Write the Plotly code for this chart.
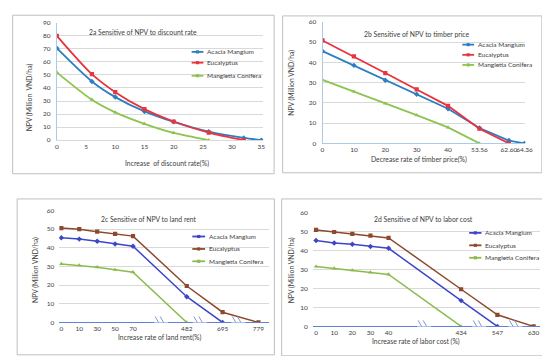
import plotly.graph_objects as go

W, H = 550, 356

# ---------------- data ----------------
series_names = ["Acacia Mangium", "Eucalyptus", "Mangletia Conifera"]

# 2a  discount rate
discount_rate = [0, 6, 10, 15, 20, 26, 32, 35]
acacia_a = [70.5, 45.0, 33.0, 22.0, 14.0, 6.5, 1.7, 0.0]
eucalyptus_a = [80.0, 50.6, 36.8, 23.8, 14.3, 5.8, 0.0]
mangletia_a = [52.0, 31.0, 21.3, 12.5, 5.5, 0.0]

# 2b  timber price
timber_labels = ["0", "10", "20", "30", "40", "53.56", "62.60", "64.36"]
acacia_b = [45.5, 38.5, 31.2, 24.2, 17.1, 7.6, 1.4, 0.0]
eucalyptus_b = [50.8, 42.9, 34.7, 26.6, 18.5, 7.2, 0.0]
mangletia_b = [31.3, 25.6, 19.7, 13.9, 7.9, 0.0]

# 2c  land rent
land_labels = ["0", "10", "30", "50", "70", "482", "695", "779"]
acacia_c = [45.3, 44.6, 43.4, 42.0, 40.8, 13.8, 0.0]
eucalyptus_c = [50.5, 49.9, 48.6, 47.4, 46.2, 19.5, 5.5, 0.0]
mangletia_c = [31.3, 30.6, 29.6, 28.2, 26.9, 0.0]

# 2d  labor cost
labor_labels = ["0", "10", "20", "30", "40", "434", "547", "630"]
acacia_d = [45.3, 44.0, 43.3, 42.2, 41.2, 13.6, 0.0]
eucalyptus_d = [50.9, 49.8, 48.8, 47.9, 46.7, 19.6, 6.1, 0.0]
mangletia_d = [31.6, 30.6, 29.6, 28.5, 27.4, 0.0]

# axis slot positions (compressed / broken axes)
timber_slots = [0, 10, 20, 30, 40, 50, 59.4, 64.36]
land_slots = [0, 1, 2, 3, 4, 7, 9, 11]
labor_slots = [0, 1, 2, 3, 4, 8, 10, 12]
land_breaks = [5.57, 7.73, 9.88]
labor_breaks = [5.96, 9.0, 11.0]

# ---------------- style ----------------
FONT = "Lato"
TXT = "#404040"
colors_top = ["#2b7fc0", "#e8343f", "#8cc44f"]
colors_bot = ["#3d46c8", "#8b4a2c", "#8cbb4c"]
symbols = ["diamond", "square", "triangle-up"]


def fx(px):
    return px / W


def fy(py):
    return 1 - py / H


fig = go.Figure()


def add_series(xs, ys_list, colors, xa, ya, spline=False, width=1.8):
    for name, ys, c, s in zip(series_names, ys_list, colors, symbols):
        fig.add_trace(go.Scatter(
            x=xs[:len(ys)], y=ys, name=name, mode="lines+markers",
            line=dict(color=c, width=width, shape="spline" if spline else "linear",
                      smoothing=0.8),
            marker=dict(color=c, size=4.2, symbol=s),
            xaxis=xa, yaxis=ya, showlegend=False, hoverinfo="skip"))


add_series(discount_rate, [acacia_a, eucalyptus_a, mangletia_a], colors_top, "x", "y", spline=True)
add_series(timber_slots, [acacia_b, eucalyptus_b, mangletia_b], colors_top, "x2", "y2")
add_series(land_slots, [acacia_c, eucalyptus_c, mangletia_c], colors_bot, "x3", "y3", width=1.5)
add_series(labor_slots, [acacia_d, eucalyptus_d, mangletia_d], colors_bot, "x4", "y4", width=1.5)

tickfont = dict(family=FONT, size=6.5, color=TXT)
grid = "#d9d9d9"
lightblue = "#a9cbe8"
axisblue = "#5f82d8"

common_x = dict(showgrid=False, zeroline=False, ticks="", tickfont=tickfont, fixedrange=True,
                tickangle=0)
common_y = dict(showgrid=True, gridcolor=grid, gridwidth=1, zeroline=False, ticks="",
                tickfont=tickfont, ticklabelstandoff=4, fixedrange=True)

fig.update_layout(
    width=W, height=H, margin=dict(l=0, r=0, t=0, b=0),
    paper_bgcolor="white", plot_bgcolor="white",
    xaxis=dict(common_x, domain=[fx(47.7), fx(258)], range=[0, 35.34], tickmode="array",
               tickvals=[0, 5, 10, 15, 20, 25, 30, 35], showline=True, linecolor=grid,
               anchor="y"),
    yaxis=dict(common_y, domain=[fy(130.7), fy(11)], range=[0, 90], dtick=10,
               showline=True, linecolor=lightblue, anchor="x"),
    xaxis2=dict(common_x, domain=[fx(318.3), fx(525)], range=[0, 64.67], tickmode="array",
                tickvals=timber_slots, ticktext=timber_labels, showline=True,
                linecolor=lightblue, anchor="y2"),
    yaxis2=dict(common_y, domain=[fy(134), fy(10)], range=[0, 60], dtick=10,
                showline=True, linecolor=lightblue, anchor="x2"),
    xaxis3=dict(common_x, domain=[fx(50.1), fx(264)], range=[-0.12, 11.6], tickmode="array",
                tickvals=land_slots, ticktext=land_labels, showline=True,
                linecolor=axisblue, linewidth=1.2, anchor="y3"),
    yaxis3=dict(common_y, domain=[fy(316.7), fy(202.3)], range=[0, 60], dtick=10,
                showline=False, anchor="x3"),
    xaxis4=dict(common_x, domain=[fx(308.4), fx(539.8)], range=[-0.18, 12.35], tickmode="array",
                tickvals=labor_slots, ticktext=labor_labels, showline=True,
                linecolor=axisblue, linewidth=1.2, anchor="y4"),
    yaxis4=dict(common_y, domain=[fy(320.7), fy(204.7)], range=[0, 60], dtick=10,
                showline=False, anchor="x4"),
)

shapes = []
annotations = []

# panel frames
for (x0, y0, x1, y1) in [(2.7, 3.3, 269, 165), (277.7, 4, 541.7, 164),
                         (7.3, 190.7, 269.3, 349.7), (276.7, 190.7, 543.3, 350.7)]:
    shapes.append(dict(type="rect", xref="paper", yref="paper", x0=fx(x0), x1=fx(x1),
                       y0=fy(y1), y1=fy(y0), line=dict(color="#bfbfbf", width=1),
                       fillcolor="rgba(0,0,0,0)", layer="below"))


def text(px, py, s, size=6.8, angle=0, anchor="center"):
    annotations.append(dict(xref="paper", yref="paper", x=fx(px), y=fy(py), text=s,
                            showarrow=False, xanchor=anchor, yanchor="middle",
                            textangle=angle, font=dict(family=FONT, size=size, color=TXT)))


# titles
text(135.5, 20, "2a Sensitive of NPV to discount rate")
text(414, 22, "2b Sensitive of NPV to timber price")
text(141.7, 211.3, "2c Sensitive of NPV to land rent")
text(421, 211.3, "2d Sensitive of NPV to labor cost")
# x titles
text(160, 154.3, "Increase  of discount rate(%)")
text(416.7, 150, "Decrease rate of timber price(%)")
text(152.5, 332, "Increase rate of land rent(%)")
text(413.3, 335.7, "Increase rate of labor cost (%)")
# y titles
text(20.7, 86.7, "NPV (Million  VND/ha)", angle=-90)
text(286.7, 71.7, "NPV (Million VND/ha)", angle=-90)
text(26.7, 263, "NPV (Million VND/ha)", angle=-90)
text(286.7, 263, "NPV (Million VND/ha)", angle=-90)


def legend(x0, ys, colors, lw=12):
    for name, py, c in zip(series_names, ys, colors):
        shapes.append(dict(type="line", xref="paper", yref="paper", x0=fx(x0), x1=fx(x0 + lw),
                           y0=fy(py), y1=fy(py), line=dict(color=c, width=1.8)))
        cx = x0 + lw / 2
        shapes.append(dict(type="rect", xref="paper", yref="paper", x0=fx(cx - 1.6),
                           x1=fx(cx + 1.6), y0=fy(py + 1.6), y1=fy(py - 1.6),
                           fillcolor=c, line=dict(width=0)))
        text(x0 + lw + 2, py, name, size=6.5, anchor="left")


legend(185, [40.7, 51.7, 65], colors_top)
legend(460.7, [33.3, 43.7, 54], colors_top)
legend(185.7, [229, 241.7, 254.3], colors_bot, lw=13)
legend(467.7, [225.3, 238, 250.7], colors_bot, lw=12.5)


def breaks(xref, yref, positions):
    for b in positions:
        shapes.append(dict(type="rect", xref=xref, yref=yref, xsizemode="pixel",
                           ysizemode="pixel", xanchor=b, yanchor=0, x0=-7, x1=7, y0=-2, y1=2,
                           fillcolor="white", line=dict(width=0)))
        for off in (-2.5, 2.5):
            shapes.append(dict(type="line", xref=xref, yref=yref, xsizemode="pixel",
                               ysizemode="pixel", xanchor=b, yanchor=0,
                               x0=off - 3.5, x1=off + 3.5, y0=6, y1=-6,
                               line=dict(color="#7f98cc", width=1)))


breaks("x3", "y3", land_breaks)
breaks("x4", "y4", labor_breaks)

fig.update_layout(shapes=shapes, annotations=annotations)
fig.write_html("out.html")
